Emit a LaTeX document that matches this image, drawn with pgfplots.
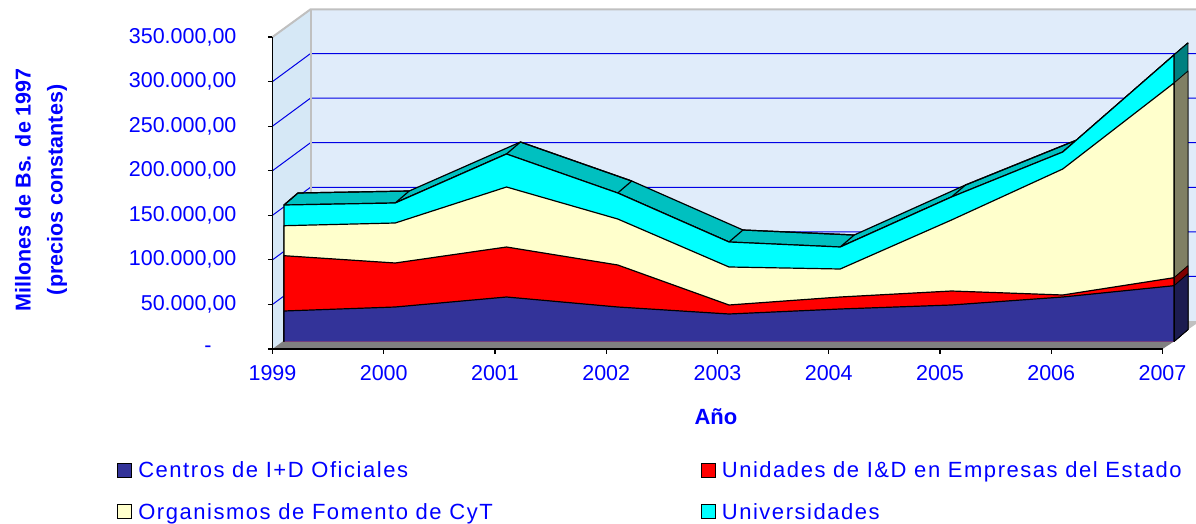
\documentclass[border=0pt]{standalone}
\usepackage{fontspec}
\setmainfont{Liberation Sans}
\usepackage{pgfplots}
\usepackage{pgfplotstable}
\pgfplotsset{compat=1.18}

\definecolor{azul}{RGB}{0,0,255}
\definecolor{cCentros}{RGB}{51,51,153}
\definecolor{cUnidades}{RGB}{255,0,0}
\definecolor{cOrganismos}{RGB}{255,255,204}
\definecolor{cUniv}{RGB}{0,255,255}
\definecolor{cTop}{RGB}{0,192,192}
\definecolor{sCentros}{RGB}{28,28,80}
\definecolor{sUnidades}{RGB}{128,0,0}
\definecolor{sOrganismos}{RGB}{128,128,100}
\definecolor{sUniv}{RGB}{0,128,128}
\definecolor{pared}{RGB}{224,236,250}
\definecolor{paredizq}{RGB}{214,232,246}
\definecolor{piso}{RGB}{128,128,128}
\definecolor{borde}{RGB}{192,192,192}

% front plane of the areas, and depth of the areas (1 year = 111.25 px, 1 px = 1121.8 units)
\newcommand{\xf}{0.1034}
\newcommand{\yf}{8414}
\newcommand{\xd}{0.1258}
\newcommand{\yd}{13460}

% first and last row close the polygons at the base
\pgfplotstableread{
year centros unidades organismos univ
1999 0     0     0      0
1999 34215 62040 33650  23220
2000 38700 49360 44870  22440
2001 49920 56090 67310  37020
2002 38700 47120 51600  29170
2003 30850 10100 42630  28050
2004 36460 13460 31410  24680
2005 40945 15705 79650  25800
2006 49920 2240  141350 19070
2007 62600 8970  218410 31410
2007 0     0     0      0
}\seriesdata

% top face of the highest area
\pgfplotstableread{
year total d
1999 153125 0
2000 155370 0
2001 210340 0
2002 166590 0
2003 111630 0
2004 106010 0
2005 162100 0
2006 212580 0
2007 321390 0
2007 321390 1
2006 212580 1
2005 162100 1
2004 106010 1
2003 111630 1
2002 166590 1
2001 210340 1
2000 155370 1
1999 153125 1
}\topface

\pgfplotstableread{
year total d
1999 153125 0
1999 153125 1
2000 155370 1
2000 155370 0
2001 210340 0
2001 210340 1
2002 166590 1
2002 166590 0
2003 111630 0
2003 111630 1
2004 106010 1
2004 106010 0
2005 162100 0
2005 162100 1
2006 212580 1
2006 212580 0
2007 321390 0
2007 321390 1
}\topribs

\pgfplotstableread{
x dy
1999 0
1999.3416 31410
2007.3011 31410
}\gridpath

\pgfplotsset{
  caja/.style={forget plot, line join=round, table/x expr=\thisrow{year}+\xf+\thisrow{d}*\xd, table/y expr=\thisrow{total}+\yf+\thisrow{d}*\yd},
  frente/.style={forget plot, draw=black, line width=1.2pt, line join=round, fill=#1},
}
\newcommand{\leyenda}[1]{\hspace*{4pt}\addfontfeature{LetterSpace=7}#1}

\begin{document}
\begin{tikzpicture}
\begin{axis}[
    scale only axis,
    width=890pt, height=312pt,
    xmin=1999, xmax=2007,
    ymin=0, ymax=350000,
    clip=false,
    axis on top,
    axis x line*=bottom,
    axis y line*=left,
    axis line style={black, line width=1.1pt},
    tick style={black, line width=1.1pt},
    tick align=outside,
    major tick length=4.5pt,
    scaled ticks=false,
    xtick={1999,2000,2001,2002,2003,2004,2005,2006,2007},
    xticklabels={1999,2000,2001,2002,2003,2004,2005,2006,2007},
    ytick={0,50000,100000,150000,200000,250000,300000,350000},
    yticklabels={{-\hspace{25pt}\mbox{}},{50.000,00},{100.000,00},{150.000,00},{200.000,00},{250.000,00},{300.000,00},{350.000,00}},
    x tick label style={font=\fontsize{21.5}{24}\selectfont, text=azul, yshift=-8pt},
    y tick label style={font=\fontsize{21.5}{24}\selectfont, text=azul, xshift=-28pt},
    xlabel={\textbf{Año}},
    xlabel style={font=\fontsize{22}{24}\selectfont, text=azul, at={(axis description cs:0.4983,-0.218)}, anchor=center},
    ylabel={\textbf{Millones de Bs. de 1997}\\\textbf{(precios constantes)}},
    ylabel style={font=\fontsize{21.5}{32}\selectfont, text=azul, align=center, at={(axis description cs:-0.2601,0.51)}, anchor=center},
    legend columns=2,
    legend cell align=left,
    legend style={draw=none, fill=none, font=\fontsize{22}{24}\selectfont, text=azul,
      at={(axis description cs:-0.178,-0.348)}, anchor=north west,
      /tikz/every even column/.style={column sep=206pt},
      /tikz/row sep=20pt},
    legend image code/.code={\draw[#1, draw=black, line width=1pt] (0pt,-7pt) rectangle (14pt,7pt);},
]
% walls and floor
\addplot[forget plot, draw=none, fill=pared] coordinates {(1999.3416,31410) (2007.3011,31410) (2007.3011,381000) (1999.3416,381000)} -- cycle;
\addplot[forget plot, draw=none, fill=paredizq] coordinates {(1999,0) (1999.3416,31410) (1999.3416,381000) (1999,350000)} -- cycle;
\addplot[forget plot, draw=none, fill=piso] coordinates {(1999,0) (2007,0) (2007.1034,8414) (2007.2292,21874) (2007.2292,31410) (1999.3416,31410)} -- cycle;
\addplot[forget plot, draw=none, fill=borde] coordinates {(2007.2292,21874) (2007.3011,28045) (2007.3011,31410) (2007.2292,31410)} -- cycle;

\pgfplotsinvokeforeach{50000,100000,150000,200000,250000,300000}{
  \addplot[forget plot, azul!90!black, line width=1pt] table[x=x, y expr=\thisrow{dy}+#1] {\gridpath};
}
\addplot[forget plot, borde, line width=2pt] coordinates {(1999,350000) (1999.3416,381000) (2007.3011,381000)};
\addplot[forget plot, borde, line width=2pt] coordinates {(1999.3416,31410) (1999.3416,381000)};

% top face
\addplot[caja, fill=cTop, draw=black, line width=1.2pt] table {\topface} -- cycle;
\addplot[caja, draw=black, line width=1.2pt] table {\topribs};

% right side, 2007
\addplot[caja, fill=sUniv, draw=black, line width=0.8pt] table {
year total d
2007 0 0
2007 0 1
2007 321390 1
2007 321390 0
} -- cycle;
\addplot[caja, fill=sOrganismos, draw=black, line width=0.8pt] table {
year total d
2007 0 0
2007 0 1
2007 289980 1
2007 289980 0
} -- cycle;
\addplot[caja, fill=sUnidades, draw=black, line width=0.8pt] table {
year total d
2007 0 0
2007 0 1
2007 71570 1
2007 71570 0
} -- cycle;
\addplot[caja, fill=sCentros, draw=black, line width=0.8pt] table {
year total d
2007 0 0
2007 0 1
2007 62600 1
2007 62600 0
} -- cycle;

% front faces, stacked
\addplot[frente=cUniv] table[x expr=\thisrow{year}+\xf, y expr=\thisrow{centros}+\thisrow{unidades}+\thisrow{organismos}+\thisrow{univ}+\yf] {\seriesdata};
\addplot[frente=cOrganismos] table[x expr=\thisrow{year}+\xf, y expr=\thisrow{centros}+\thisrow{unidades}+\thisrow{organismos}+\yf] {\seriesdata};
\addplot[frente=cUnidades] table[x expr=\thisrow{year}+\xf, y expr=\thisrow{centros}+\thisrow{unidades}+\yf] {\seriesdata};
\addplot[frente=cCentros] table[x expr=\thisrow{year}+\xf, y expr=\thisrow{centros}+\yf] {\seriesdata};

\addlegendimage{fill=cCentros}
\addlegendentry{\leyenda{Centros de I+D Oficiales}}
\addlegendimage{fill=cUnidades}
\addlegendentry{\leyenda{Unidades de I\&D en Empresas del Estado}}
\addlegendimage{fill=cOrganismos}
\addlegendentry{\leyenda{Organismos de Fomento de CyT}}
\addlegendimage{fill=cUniv}
\addlegendentry{\leyenda{Universidades}}
\end{axis}
\pgfresetboundingbox
\path[use as bounding box] (-272.5pt,-175pt) rectangle (923.5pt,349pt);
\end{tikzpicture}
\end{document}
